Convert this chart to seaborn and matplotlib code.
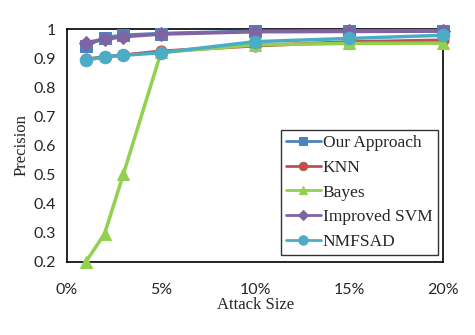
import matplotlib
matplotlib.use("Agg")
import matplotlib.pyplot as plt
import seaborn as sns
import pandas as pd
from matplotlib.ticker import FuncFormatter

attack_size = [1, 2, 3, 5, 10, 15, 20]
our_approach = [0.943, 0.971, 0.979, 0.985, 0.993, 0.994, 0.995]
knn = [0.896, 0.905, 0.911, 0.924, 0.943, 0.956, 0.962]
bayes = [0.200, 0.297, 0.502, 0.920, 0.946, 0.951, 0.952]
improved_svm = [0.954, 0.965, 0.974, 0.983, 0.991, 0.992, 0.993]
nmfsad = [0.894, 0.904, 0.910, 0.919, 0.957, 0.968, 0.979]

series_names = ["Our Approach", "KNN", "Bayes", "Improved SVM", "NMFSAD"]
series_values = [our_approach, knn, bayes, improved_svm, nmfsad]
colors = ["#4F81BD", "#C0504D", "#92D050", "#8064A2", "#4BACC6"]
markers = ["s", "o", "^", "D", "o"]
marker_sizes = [8, 8, 8, 7, 9]

x_ticks = [0, 5, 10, 15, 20]
y_ticks = [0.2, 0.3, 0.4, 0.5, 0.6, 0.7, 0.8, 0.9, 1.0]

rows = []
for name, vals in zip(series_names, series_values):
    for x, v in zip(attack_size, vals):
        rows.append({"Attack Size": x, "Precision": v, "Method": name})
df = pd.DataFrame(rows)

sns.set_style("white")
fig = plt.figure(figsize=(4.75, 3.35), dpi=100)
ax = fig.add_axes([0.141, 0.218, 0.792, 0.695])

for name, col, mk, ms in zip(series_names, colors, markers, marker_sizes):
    sub = df[df["Method"] == name]
    sns.lineplot(data=sub, x="Attack Size", y="Precision", ax=ax, color=col,
                 marker=mk, markersize=ms, markeredgecolor=col, linewidth=2.5,
                 label=name, clip_on=False, zorder=3)

ax.set_xlim(0, 20)
ax.set_ylim(0.2, 1.0)
ax.set_xticks(x_ticks)
ax.set_yticks(y_ticks)
ax.xaxis.set_major_formatter(FuncFormatter(lambda v, p: f"{int(v)}%"))
ax.yaxis.set_major_formatter(FuncFormatter(lambda v, p: "1" if abs(v - 1) < 1e-9 else f"{v:.1f}"))
ax.tick_params(axis="both", length=0, labelsize=11.5, pad=8)
for lbl in ax.get_xticklabels() + ax.get_yticklabels():
    lbl.set_family(["Lato", "DejaVu Sans"])
ax.tick_params(axis="x", pad=15)
for s in ax.spines.values():
    s.set_visible(True)
    s.set_color("black")
    s.set_linewidth(1.2)

ax.set_xlabel("Attack Size", family="Liberation Serif", fontsize=12, labelpad=0)
ax.set_ylabel("Precision", family="Liberation Serif", fontsize=12, labelpad=3)

leg = ax.legend(loc="lower right", bbox_to_anchor=(0.985, 0.028),
                prop={"family": "Liberation Serif", "size": 12.5},
                frameon=True, fancybox=False, edgecolor="black",
                handlelength=2.0, handletextpad=0.1, labelspacing=0.5,
                borderpad=0.3, borderaxespad=0.0, markerscale=0.75)
leg.get_frame().set_linewidth(1.0)
for h in leg.get_lines():
    h.set_linewidth(2.0)

fig.savefig("out.png", dpi=100)
